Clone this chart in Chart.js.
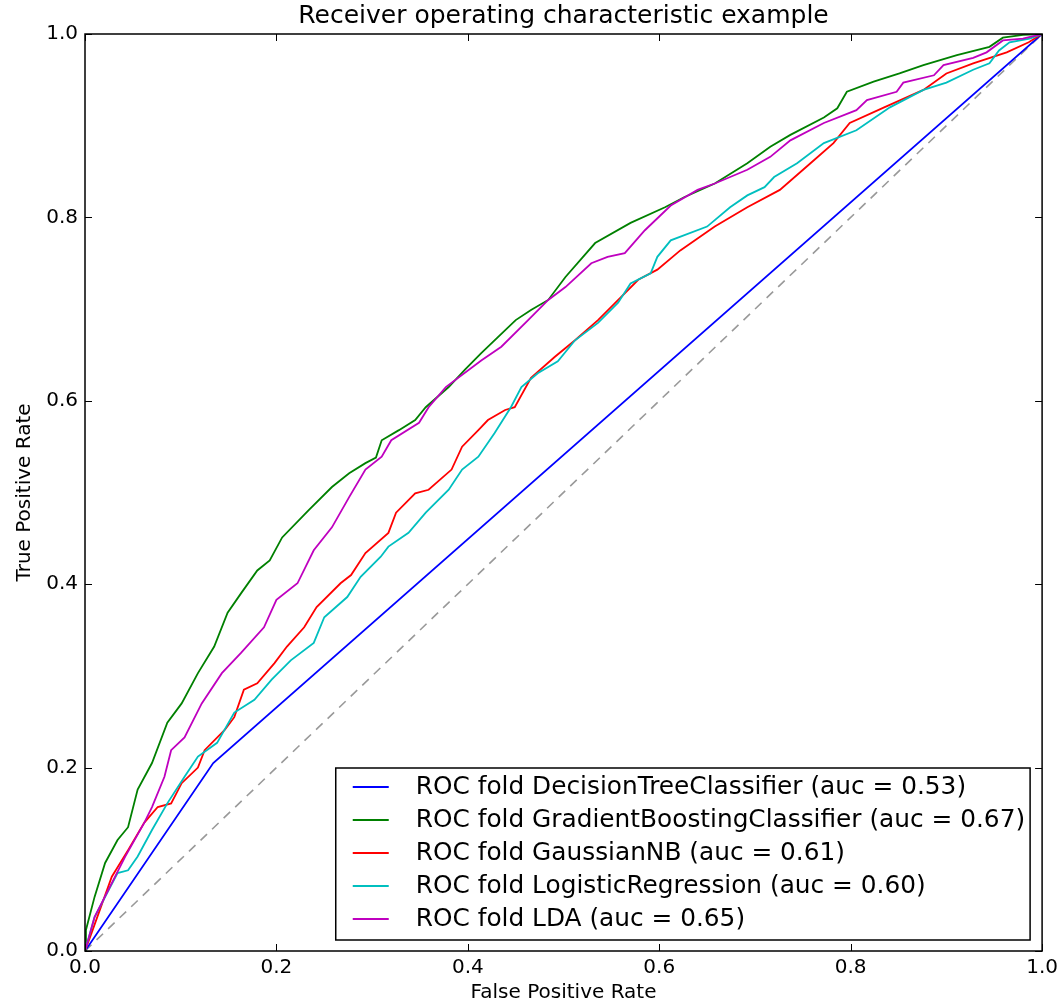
<!DOCTYPE html>
<html>
<head>
<meta charset="utf-8">
<title>Receiver operating characteristic example</title>
<script src="https://cdn.jsdelivr.net/npm/chart.js@4.4.0/dist/chart.umd.min.js"></script>
<style>
  html, body { margin: 0; padding: 0; background: #fff; }
  #wrap { width: 1063px; height: 1006px; }
</style>
</head>
<body>
<div id="wrap"><canvas id="rocChart" width="1063" height="1006"></canvas></div>
<script>
// Values
const xTicks = [0, 0.2, 0.4, 0.6, 0.8, 1.0];
const yTicks = [0, 0.2, 0.4, 0.6, 0.8, 1.0];

const modelNames = ['DecisionTreeClassifier', 'GradientBoostingClassifier', 'GaussianNB', 'LogisticRegression', 'LDA'];
const aucValues = [0.53, 0.67, 0.61, 0.60, 0.65];
const lineColors = ['#0000ff', '#008000', '#ff0000', '#00bfbf', '#bf00bf'];

// DecisionTreeClassifier
const dtFpr = [0, 0.134, 1];
const dtTpr = [0, 0.205, 1];

// GradientBoostingClassifier
const gbFpr = [0, 0.001, 0.01, 0.021, 0.034, 0.045, 0.055, 0.07, 0.086, 0.101, 0.118, 0.135, 0.149, 0.163, 0.18,
  0.193, 0.206, 0.234, 0.258, 0.276, 0.293, 0.304, 0.31, 0.328, 0.345, 0.356, 0.38, 0.397, 0.414, 0.432,
  0.45, 0.466, 0.484, 0.502, 0.533, 0.57, 0.606, 0.626, 0.658, 0.692, 0.716, 0.737, 0.772, 0.786, 0.796,
  0.824, 0.851, 0.876, 0.911, 0.945, 0.959, 0.98, 1];
const gbTpr = [0, 0.023, 0.059, 0.096, 0.121, 0.135, 0.176, 0.205, 0.249, 0.27, 0.303, 0.332, 0.369, 0.39, 0.415,
  0.426, 0.451, 0.481, 0.506, 0.521, 0.532, 0.538, 0.557, 0.568, 0.579, 0.593, 0.615, 0.634, 0.652, 0.67,
  0.688, 0.699, 0.71, 0.735, 0.772, 0.794, 0.811, 0.822, 0.837, 0.859, 0.877, 0.89, 0.909, 0.919, 0.937,
  0.948, 0.957, 0.966, 0.977, 0.986, 0.996, 0.999, 1];

// GaussianNB
const nbFpr = [0, 0.007, 0.028, 0.045, 0.062, 0.076, 0.09, 0.101, 0.118, 0.125, 0.146, 0.156, 0.166, 0.18, 0.198,
  0.211, 0.229, 0.242, 0.267, 0.278, 0.293, 0.317, 0.325, 0.345, 0.359, 0.383, 0.394, 0.411, 0.421, 0.439,
  0.449, 0.466, 0.491, 0.512, 0.536, 0.56, 0.578, 0.598, 0.622, 0.658, 0.692, 0.726, 0.758, 0.782, 0.799,
  0.835, 0.876, 0.9, 0.928, 0.963, 0.986, 1];
const nbTpr = [0, 0.02, 0.081, 0.11, 0.14, 0.157, 0.161, 0.183, 0.2, 0.219, 0.241, 0.255, 0.285, 0.292, 0.314,
  0.332, 0.353, 0.375, 0.401, 0.41, 0.434, 0.456, 0.478, 0.499, 0.503, 0.525, 0.55, 0.568, 0.579, 0.59,
  0.593, 0.625, 0.648, 0.666, 0.688, 0.713, 0.732, 0.743, 0.764, 0.79, 0.811, 0.83, 0.859, 0.881, 0.903,
  0.92, 0.939, 0.957, 0.968, 0.98, 0.991, 1];

// LogisticRegression
const lrFpr = [0, 0.01, 0.034, 0.045, 0.055, 0.07, 0.086, 0.104, 0.118, 0.138, 0.156, 0.177, 0.195, 0.215, 0.239,
  0.25, 0.274, 0.288, 0.309, 0.317, 0.338, 0.356, 0.38, 0.394, 0.411, 0.428, 0.445, 0.456, 0.473, 0.494,
  0.512, 0.536, 0.557, 0.57, 0.591, 0.598, 0.612, 0.65, 0.674, 0.692, 0.71, 0.72, 0.744, 0.772, 0.806,
  0.841, 0.876, 0.9, 0.928, 0.945, 0.955, 0.966, 0.987, 1];
const lrTpr = [0, 0.037, 0.085, 0.088, 0.103, 0.132, 0.161, 0.19, 0.212, 0.227, 0.26, 0.274, 0.296, 0.317, 0.336,
  0.364, 0.386, 0.408, 0.43, 0.441, 0.456, 0.478, 0.503, 0.525, 0.539, 0.565, 0.593, 0.615, 0.63, 0.643,
  0.666, 0.685, 0.707, 0.728, 0.739, 0.757, 0.775, 0.79, 0.811, 0.824, 0.833, 0.844, 0.859, 0.881, 0.895,
  0.92, 0.939, 0.947, 0.961, 0.968, 0.982, 0.991, 0.995, 1];

// LDA
const ldaFpr = [0, 0.01, 0.028, 0.042, 0.062, 0.07, 0.083, 0.09, 0.104, 0.122, 0.143, 0.163, 0.187, 0.2, 0.222,
  0.239, 0.258, 0.276, 0.293, 0.31, 0.32, 0.349, 0.359, 0.377, 0.414, 0.435, 0.463, 0.484, 0.502, 0.529,
  0.546, 0.564, 0.585, 0.612, 0.64, 0.658, 0.692, 0.716, 0.737, 0.772, 0.806, 0.817, 0.848, 0.855, 0.887,
  0.897, 0.928, 0.942, 0.959, 0.98, 1];
const ldaTpr = [0, 0.037, 0.074, 0.103, 0.14, 0.157, 0.19, 0.219, 0.233, 0.27, 0.303, 0.325, 0.353, 0.383, 0.401,
  0.437, 0.462, 0.495, 0.525, 0.539, 0.557, 0.576, 0.593, 0.615, 0.644, 0.659, 0.688, 0.71, 0.724, 0.75,
  0.757, 0.761, 0.786, 0.813, 0.83, 0.837, 0.852, 0.866, 0.884, 0.903, 0.917, 0.928, 0.937, 0.947, 0.955,
  0.966, 0.974, 0.98, 0.993, 0.995, 1];

// chance line
const luckX = [0, 1];
const luckY = [0, 1];

const curves = [[dtFpr, dtTpr], [gbFpr, gbTpr], [nbFpr, nbTpr], [lrFpr, lrTpr], [ldaFpr, ldaTpr]];

const FONT = '"DejaVu Sans", "Liberation Sans", sans-serif';

const toPoints = (xs, ys) => xs.map((x, i) => ({ x: x, y: ys[i] }));

const datasets = curves.map((c, i) => ({
  label: `ROC fold ${modelNames[i]} (auc = ${aucValues[i].toFixed(2)})`,
  data: toPoints(c[0], c[1]),
  borderColor: lineColors[i],
  borderWidth: 1.8,
  order: curves.length - i
}));
datasets.push({
  label: '',
  data: toPoints(luckX, luckY),
  borderColor: '#999999',
  borderWidth: 1.6,
  borderDash: [9, 7],
  order: 10
});

// matplotlib style: ticks pointing in on all four sides + frame
const frameTicks = {
  id: 'frameTicks',
  afterDatasetsDraw(chart) {
    const { ctx, chartArea: a, scales } = chart;
    ctx.save();
    ctx.strokeStyle = '#000';
    ctx.lineWidth = 1;
    ctx.beginPath();
    xTicks.forEach(v => {
      const px = Math.round(scales.x.getPixelForValue(v)) + 0.5;
      ctx.moveTo(px, a.bottom); ctx.lineTo(px, a.bottom - 7);
      ctx.moveTo(px, a.top); ctx.lineTo(px, a.top + 7);
    });
    yTicks.forEach(v => {
      const py = Math.round(scales.y.getPixelForValue(v)) + 0.5;
      ctx.moveTo(a.left, py); ctx.lineTo(a.left + 7, py);
      ctx.moveTo(a.right, py); ctx.lineTo(a.right - 7, py);
    });
    ctx.stroke();
    ctx.lineWidth = 1.5;
    ctx.strokeRect(a.left, a.top, a.right - a.left, a.bottom - a.top);
    ctx.restore();
  }
};

// legend box in the lower right corner of the axes
const rocLegend = {
  id: 'rocLegend',
  afterDraw(chart) {
    const { ctx, chartArea: a } = chart;
    const items = chart.data.datasets.filter(d => d.label);
    ctx.save();
    ctx.font = '24.8px ' + FONT;
    const textW = Math.max(...items.map(d => ctx.measureText(d.label).width));
    const rowH = 33;
    const boxW = 17 + 36 + 27 + textW + 5;
    const boxH = items.length * rowH + 7;
    const right = a.right - 12;
    const bottom = a.bottom - 11;
    const left = right - boxW;
    const top = bottom - boxH;
    ctx.fillStyle = '#fff';
    ctx.fillRect(left, top, boxW, boxH);
    ctx.strokeStyle = '#000';
    ctx.lineWidth = 1.5;
    ctx.strokeRect(left, top, boxW, boxH);
    ctx.textBaseline = 'middle';
    ctx.textAlign = 'left';
    items.forEach((d, i) => {
      const y = top + 19 + i * rowH;
      ctx.strokeStyle = d.borderColor;
      ctx.lineWidth = 1.8;
      ctx.beginPath();
      ctx.moveTo(left + 17, y);
      ctx.lineTo(left + 53, y);
      ctx.stroke();
      ctx.fillStyle = '#000';
      ctx.fillText(d.label, left + 80, y + 1);
    });
    ctx.restore();
  }
};

const ctx = document.getElementById('rocChart').getContext('2d');
new Chart(ctx, {
  type: 'scatter',
  data: { datasets: datasets },
  options: {
    responsive: false,
    animation: false,
    showLine: true,
    elements: {
      point: { radius: 0, hoverRadius: 0 },
      line: { tension: 0, fill: false }
    },
    layout: { padding: { left: 0, right: 17, top: 0, bottom: 0 } },
    plugins: {
      legend: { display: false },
      tooltip: { enabled: false },
      title: {
        display: true,
        fullSize: false,
        text: 'Receiver operating characteristic example',
        color: '#000',
        font: { family: FONT, size: 25, weight: 'normal' },
        padding: { top: 1.5, bottom: 2.5 }
      }
    },
    scales: {
      x: {
        type: 'linear',
        min: 0,
        max: 1,
        afterFit: s => { s.height = 55; },
        afterBuildTicks: s => { s.ticks = xTicks.map(v => ({ value: v })); },
        grid: { display: false, drawTicks: false, tickLength: 0 },
        border: { display: false },
        ticks: {
          padding: 5,
          color: '#000',
          font: { family: FONT, size: 20 },
          maxRotation: 0,
          callback: v => v.toFixed(1)
        },
        title: {
          display: true,
          text: 'False Positive Rate',
          color: '#000',
          font: { family: FONT, size: 20 },
          padding: { top: 0, bottom: 1 }
        }
      },
      y: {
        type: 'linear',
        min: 0,
        max: 1,
        afterFit: s => { s.width = 85; },
        afterBuildTicks: s => { s.ticks = yTicks.map(v => ({ value: v })); },
        grid: { display: false, drawTicks: false, tickLength: 0 },
        border: { display: false },
        ticks: {
          padding: 7,
          color: '#000',
          font: { family: FONT, size: 20 },
          callback: v => v.toFixed(1)
        },
        title: {
          display: true,
          text: 'True Positive Rate',
          color: '#000',
          font: { family: FONT, size: 20 },
          padding: { top: 13, bottom: 0 }
        }
      }
    }
  },
  plugins: [frameTicks, rocLegend]
});
</script>
</body>
</html>
